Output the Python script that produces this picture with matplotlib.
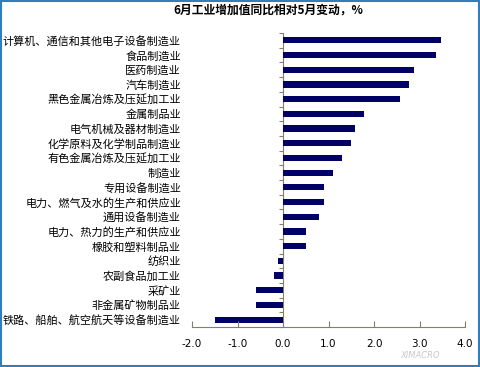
import matplotlib
matplotlib.use("Agg")
import matplotlib.pyplot as plt
from matplotlib.patches import Rectangle

plt.rcParams['font.family'] = ['Noto Sans CJK SC', 'DejaVu Sans']

industries = [
    '计算机、通信和其他电子设备制造业', '食品制造业', '医药制造业', '汽车制造业',
    '黑色金属冶炼及压延加工业', '金属制品业', '电气机械及器材制造业',
    '化学原料及化学制品制造业', '有色金属冶炼及压延加工业', '制造业',
    '专用设备制造业', '电力、燃气及水的生产和供应业', '通用设备制造业',
    '电力、热力的生产和供应业', '橡胶和塑料制品业', '纺织业', '农副食品加工业',
    '采矿业', '非金属矿物制品业', '铁路、船舶、航空航天等设备制造业',
]
changes = [3.47, 3.36, 2.88, 2.77, 2.57, 1.78, 1.58, 1.49, 1.29, 1.09,
           0.90, 0.90, 0.79, 0.50, 0.50, -0.10, -0.20, -0.60, -0.60, -1.50]
xticks = [-2.0, -1.0, 0.0, 1.0, 2.0, 3.0, 4.0]

axis_color = '#808070'
fig = plt.figure(figsize=(4.8, 3.67), dpi=100)
ax = fig.add_axes([0.40, 0.109, 0.569, 0.801])

pos = list(range(len(industries)))
ax.barh(pos, changes, height=0.42, color='#000066')

ax.set_xlim(-2, 4)
ax.set_ylim(len(industries) - 0.5, -0.5)

ax.set_yticks(pos)
ax.set_yticklabels(industries, fontsize=8)
ax.tick_params(axis='y', length=0, pad=8)

ax.set_xticks(xticks)
ax.set_xticklabels(['%.1f' % t for t in xticks], fontsize=7.5, family='DejaVu Sans')
ax.tick_params(axis='x', length=4, direction='in', color=axis_color, pad=9)

for s in ['top', 'right', 'left']:
    ax.spines[s].set_visible(False)
ax.spines['bottom'].set_color(axis_color)

# category axis sits at zero, with ticks between categories
zero_frac = (0 - xticks[0]) / (xticks[-1] - xticks[0])
sec = ax.secondary_yaxis(zero_frac)
sec.set_yticks([p - 0.5 for p in pos] + [len(pos) - 0.5])
sec.set_yticklabels([])
sec.tick_params(length=3, direction='out', color=axis_color)
sec.spines['left'].set_color(axis_color)

fig.text(0.56, 0.972, '6月工业增加值同比相对5月变动，%', ha='center', va='center',
         fontsize=8.5, fontweight='bold')
fig.text(0.875, 0.03, 'XIMACRO', ha='center', va='center', fontsize=6,
         color='#c8c8c8', family='DejaVu Sans', style='italic')

fig.patches.append(Rectangle((0.002, 0.003), 0.996, 0.994, transform=fig.transFigure,
                             fill=False, edgecolor='#2f7fbf', lw=1.5))

fig.savefig('out.png', dpi=100)
